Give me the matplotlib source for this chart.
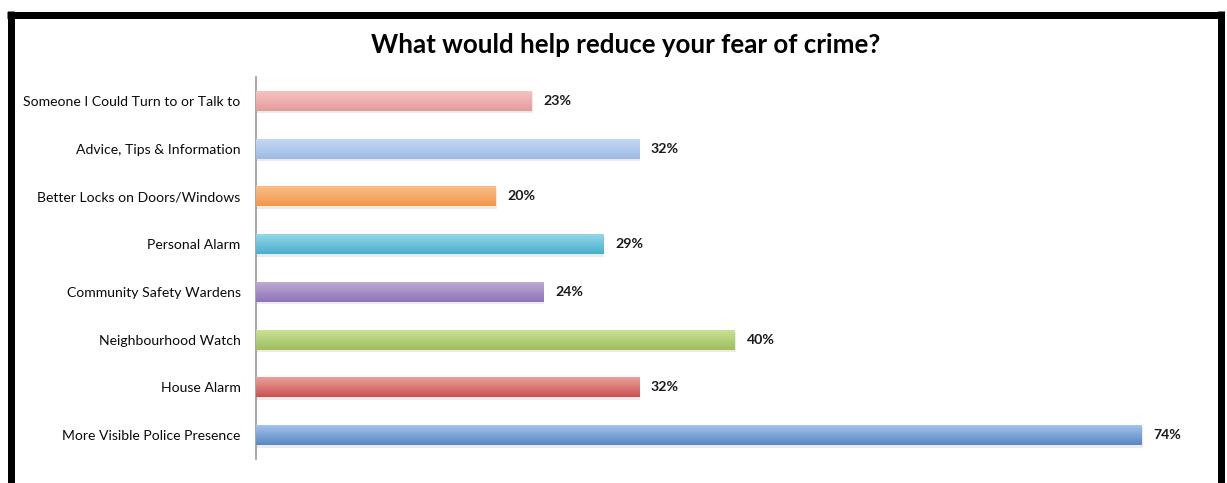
import numpy as np
import matplotlib
matplotlib.use("Agg")
import matplotlib.pyplot as plt
from matplotlib.colors import to_rgb
from matplotlib.lines import Line2D

categories = [
    "Someone I Could Turn to or Talk to",
    "Advice, Tips & Information",
    "Better Locks on Doors/Windows",
    "Personal Alarm",
    "Community Safety Wardens",
    "Neighbourhood Watch",
    "House Alarm",
    "More Visible Police Presence",
]
values = [23, 32, 20, 29, 24, 40, 32, 74]
labels = ["23%", "32%", "20%", "29%", "24%", "40%", "32%", "74%"]

# (top, bottom) colours of each bar's vertical gradient
colors_top = ["#F9C4C3", "#C6DAF6", "#FCC08C", "#98D9EC", "#BEADD8", "#CCE29A", "#F0A3A1", "#A8C6EE"]
colors_bot = ["#E39D9B", "#9DBAE4", "#F2974A", "#47B0CC", "#8F74B6", "#9FBF5C", "#C9524F", "#5887C4"]

plt.rcParams["font.family"] = ["Lato", "DejaVu Sans"]

fig = plt.figure(figsize=(12.27, 4.83), dpi=100)
W, H = 1227, 483
ax = fig.add_axes([256 / W, (H - 459) / H, 957.6 / W, 382 / H])

n = len(categories)
ypos = np.arange(n)
bar_h = 0.42

for i, (v, ct, cb) in enumerate(zip(values, colors_top, colors_bot)):
    # soft drop shadow
    ax.barh(i + 0.05, v + 0.1, height=bar_h, left=0.0, color="#000000", alpha=0.08, zorder=1)
    bar = ax.barh(i, v, height=bar_h, color=cb, zorder=2)[0]
    grad = np.linspace(0, 1, 64)[:, None, None]
    img = (1 - grad) * np.array(to_rgb(ct)) + grad * np.array(to_rgb(cb))
    im = ax.imshow(img, extent=[0, v, i + bar_h / 2, i - bar_h / 2], aspect="auto",
                   origin="upper", zorder=3, interpolation="bicubic")
    im.set_clip_path(bar)
    ax.text(v + 1.0, i, labels[i], va="center", ha="left", fontsize=10.2,
            fontweight="bold", color="#1a1a1a")

ax.set_xlim(0, 80)
ax.set_ylim(n - 0.5, -0.5)
ax.set_yticks(ypos)
ax.set_yticklabels(categories, fontsize=10.1, color="#0a0a0a")
ax.tick_params(axis="y", length=0, pad=11)
ax.set_xticks([])
for s in ["top", "right", "bottom"]:
    ax.spines[s].set_visible(False)
ax.spines["left"].set_color("#999999")
ax.spines["left"].set_linewidth(1.2)

fig.text(626 / W, 1 - 45 / H, "What would help reduce your fear of crime?",
         ha="center", va="center", fontsize=18.6, fontweight="bold", color="#000000")

# black frame around the chart
lw = 7 * 72 / 100
def fx(p):
    return p / W
def fy(p):
    return 1 - p / H
fig.add_artist(Line2D([fx(10.5), fx(10.5)], [fy(11), fy(490)], color="black", lw=lw,
                      transform=fig.transFigure, solid_capstyle="butt"))
fig.add_artist(Line2D([fx(7), fx(1224)], [fy(14.5), fy(14.5)], color="black", lw=lw,
                      transform=fig.transFigure, solid_capstyle="butt"))
fig.add_artist(Line2D([fx(1220.5), fx(1220.5)], [fy(11), fy(490)], color="black", lw=lw,
                      transform=fig.transFigure, solid_capstyle="butt"))

fig.savefig("out.png", dpi=100)
